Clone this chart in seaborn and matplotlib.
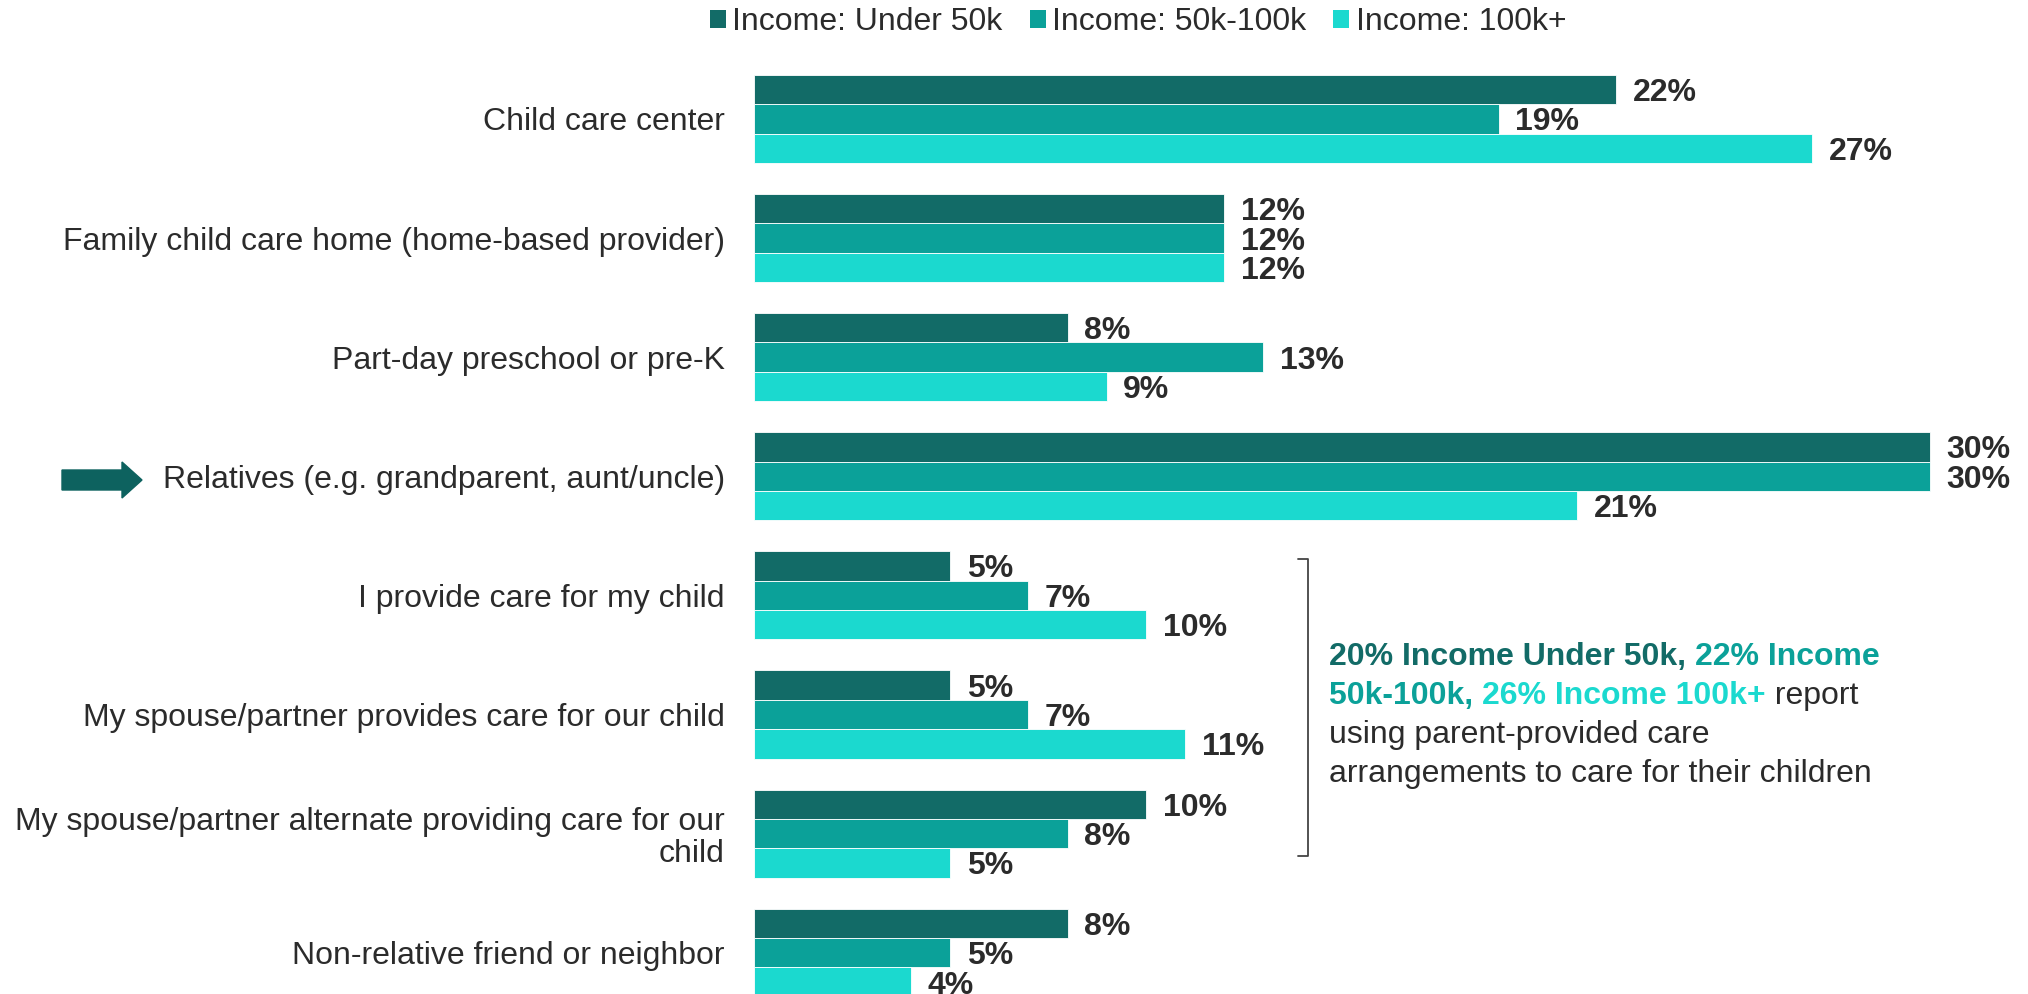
import pandas as pd
import matplotlib.pyplot as plt
import seaborn as sns
from matplotlib.patches import FancyArrow, Patch
from matplotlib.lines import Line2D

sns.set_style("white")
plt.rcParams["font.family"] = ["Liberation Sans", "DejaVu Sans"]

# data
categories = [
    "Child care center",
    "Family child care home (home-based provider)",
    "Part-day preschool or pre-K",
    "Relatives (e.g. grandparent, aunt/uncle)",
    "I provide care for my child",
    "My spouse/partner provides care for our child",
    "My spouse/partner alternate providing care for our\nchild",
    "Non-relative friend or neighbor",
]
groups = ["Income: Under 50k", "Income: 50k-100k", "Income: 100k+"]
under_50k = [22, 12, 8, 30, 5, 5, 10, 8]
mid_50_100k = [19, 12, 13, 30, 7, 7, 8, 5]
over_100k = [27, 12, 9, 21, 10, 11, 5, 4]
colors = ["#126b67", "#0ba199", "#1bd9cf"]
text_col = "#2b2b2b"
fs = 23

rows = []
for g, vals in zip(groups, [under_50k, mid_50_100k, over_100k]):
    for c, v in zip(categories, vals):
        rows.append({"Category": c, "Income": g, "Value": v})
df = pd.DataFrame(rows)

W, H = 2028, 994
fig = plt.figure(figsize=(W / 100, H / 100), dpi=100)
ax = fig.add_axes([754 / W, 0, 1254 / W, 934 / H])

sns.barplot(data=df, y="Category", x="Value", hue="Income", order=categories,
            hue_order=groups, palette=colors, saturation=1, width=0.74, orient="h",
            edgecolor="white", linewidth=0.6, legend=False, ax=ax)

for cont in ax.containers:
    labels = ax.bar_label(cont, fmt="%g%%", padding=12, fontsize=fs,
                          fontweight="bold", color=text_col, clip_on=False)
    # nudge the labels down a touch, like the original
    for t in labels:
        t.xyann = (t.xyann[0], t.xyann[1] - 2.5)

ax.set_xlim(0, 32)
ax.set_ylim(7.347, -0.495)
ax.set_xlabel("")
ax.set_ylabel("")
ax.set_xticks([])
ax.tick_params(axis="y", length=0, pad=21, labelsize=fs, labelcolor=text_col)
for lab in ax.get_yticklabels():
    lab.set_linespacing(1.1)
sns.despine(ax=ax, left=True, bottom=True)

# legend
handles = [Patch(facecolor=c, edgecolor="none") for c in colors]
fig.legend(handles, groups, loc="center", bbox_to_anchor=(1138 / W, 1 - 22 / H),
           ncol=3, frameon=False, fontsize=fs, handlelength=0.5,
           handleheight=0.5, handletextpad=0.2, columnspacing=0.85,
           labelcolor=text_col)

# arrow pointing at Relatives
tr = fig.dpi_scale_trans
fig.add_artist(FancyArrow(0.62, (H - 480) / 100, 0.60, 0, width=0.2,
                          head_width=0.36, head_length=0.2,
                          length_includes_head=False, color="#0d625f",
                          transform=tr))

# bracket
fig.add_artist(Line2D([12.98, 13.08, 13.08, 12.98],
                      [(H - 559) / 100, (H - 559) / 100, (H - 856) / 100, (H - 856) / 100],
                      color="#444444", lw=1.3, transform=tr))

# annotation text with coloured runs
lines = [
    [("20% Income Under 50k, ", colors[0], "bold"), ("22% Income", colors[1], "bold")],
    [("50k-100k, ", colors[1], "bold"), ("26% Income 100k+", colors[2], "bold"),
     (" report", text_col, "normal")],
    [("using parent-provided care", text_col, "normal")],
    [("arrangements to care for their children", text_col, "normal")],
]
y0 = 657
for i, runs in enumerate(lines):
    y = (H - (y0 + i * 39)) / 100
    prev = None
    for txt, col, wt in runs:
        if prev is None:
            prev = fig.text(13.29, y, txt, transform=tr, color=col, fontweight=wt,
                            fontsize=fs, va="center", ha="left")
        else:
            prev = ax.annotate(txt, xy=(1, 0), xycoords=prev, color=col,
                               fontweight=wt, fontsize=fs, va="bottom", ha="left",
                               annotation_clip=False)

fig.savefig("out.png", dpi=100)
